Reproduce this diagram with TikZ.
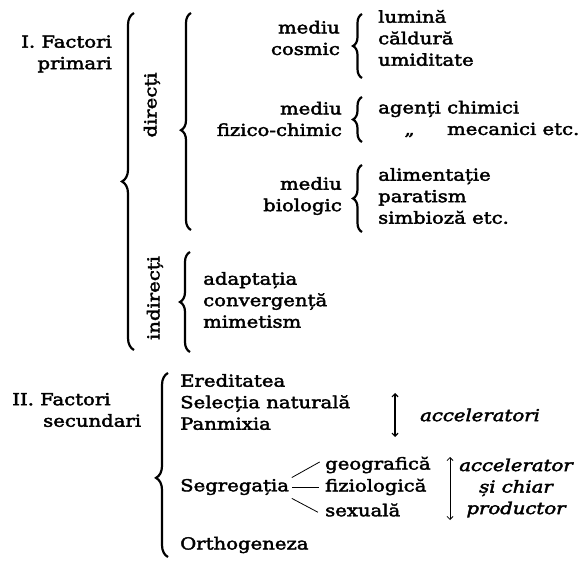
\documentclass[tikz,border=0pt]{standalone}
\usepackage{fontspec}
\usepackage{calc}
\setmainfont{DejaVu Serif}[FakeStretch=1.19, FakeBold=2.5]
\usetikzlibrary{arrows.meta,positioning,decorations.pathreplacing}

\begin{document}
\begin{tikzpicture}[
  x = 1pt, y = -1pt,
  > = {Straight Barb[length=3pt,width=6pt]},
  lbl/.style = {inner sep=0pt, font=\fontsize{16.5}{21.5}\selectfont},
  lst/.style = {lbl, align=left, anchor=west},
  head/.style = {lbl, align=right, anchor=east},
  acc/.style = {inner sep=0pt, font=\fontsize{16.5}{21.5}\selectfont\itshape},
  brc/.style = {decorate, line width=2.2pt,
                decoration={brace, amplitude=#1}},
  brc/.default = 9pt,
  dbl/.style = {<->, line width=0.8pt}
]
\useasboundingbox (0,0) rectangle (584,561);

% I. primary factors
\node[head] (fac1) at (112,54) {I. Factori\\primari};
\node[lbl, rotate=90] (dir) at (152,105) {direcți};
\node[lbl, rotate=90] (indir) at (155,298) {indirecți};

\node[head] (cosm) at (340,38) {mediu\\cosmic};
\node[lst]  (cosi) at (378,38) {lumină\\căldură\\umiditate};
\node[head] (fizm) at (342,119) {mediu\\fizico-chimic};
\node[lst]  (fizi) at (378,119)
  {agenți\ chimici\\\makebox[\widthof{agenți}]{„}\ mecanici etc.};
\node[head] (biom) at (342,196) {mediu\\biologic};
\node[lst]  (bioi) at (378,196) {alimentație\\paratism\\simbioză etc.};
\node[lst]  (indi) at (203,300) {adaptația\\convergență\\mimetism};

\draw[brc=12pt, decoration={aspect=0.5}] (134,350) -- (134,13);
\draw[brc=10pt, decoration={aspect=0.46}] (191,230) -- (191,13);
\draw[brc=10pt] (190,352) -- (190,252);
\draw[brc] (362,78) -- (362,14);
\draw[brc] (362,142) -- (362,97);
\draw[brc] (362,232) -- (362,165);

% II. secondary factors
\node[lst] (fac2) at (12,410) {II. Factori\\\hspace*{31pt}secundari};
\draw[brc=12pt, decoration={aspect=0.43}] (168,557) -- (168,373);

\node[lst] (ered) at (180,402) {Ereditatea\\Selecția naturală\\Panmixia};
\node[lst] (seg)  at (180,487) {Segregația};
\node[lst] (orth) at (180,545) {Orthogeneza};

\node[lst] (geo) at (325,465) {geografică};
\node[lst] (fiz) at (325,487) {fiziologică};
\node[lst] (sex) at (325,510) {sexuală};

\draw[line width=0.8pt, shorten <=3pt, shorten >=6pt]
  ([yshift=8pt]seg.east) -- ([yshift=6pt]geo.west);
\draw[line width=0.8pt, shorten <=3pt, shorten >=6pt]
  (seg.east) -- (fiz.west);
\draw[line width=0.8pt, shorten <=3pt, shorten >=8pt]
  ([yshift=-10pt]seg.east) -- ([yshift=-6pt]sex.west);

\node[acc, anchor=west] (acc1) at (420,415) {acceleratori};
\node[acc, align=center] (acc2) at (516,488) {accelerator\\și chiar\\productor};

\coordinate (a1t) at (395,393);
\coordinate (a1b) at (395,437);
\coordinate (a2t) at (450,457);
\coordinate (a2b) at (450,520);
\draw[dbl, line width=1.2pt] (a1t) -- (a1b);
\draw[dbl] (a2t) -- (a2b);
\end{tikzpicture}
\end{document}
